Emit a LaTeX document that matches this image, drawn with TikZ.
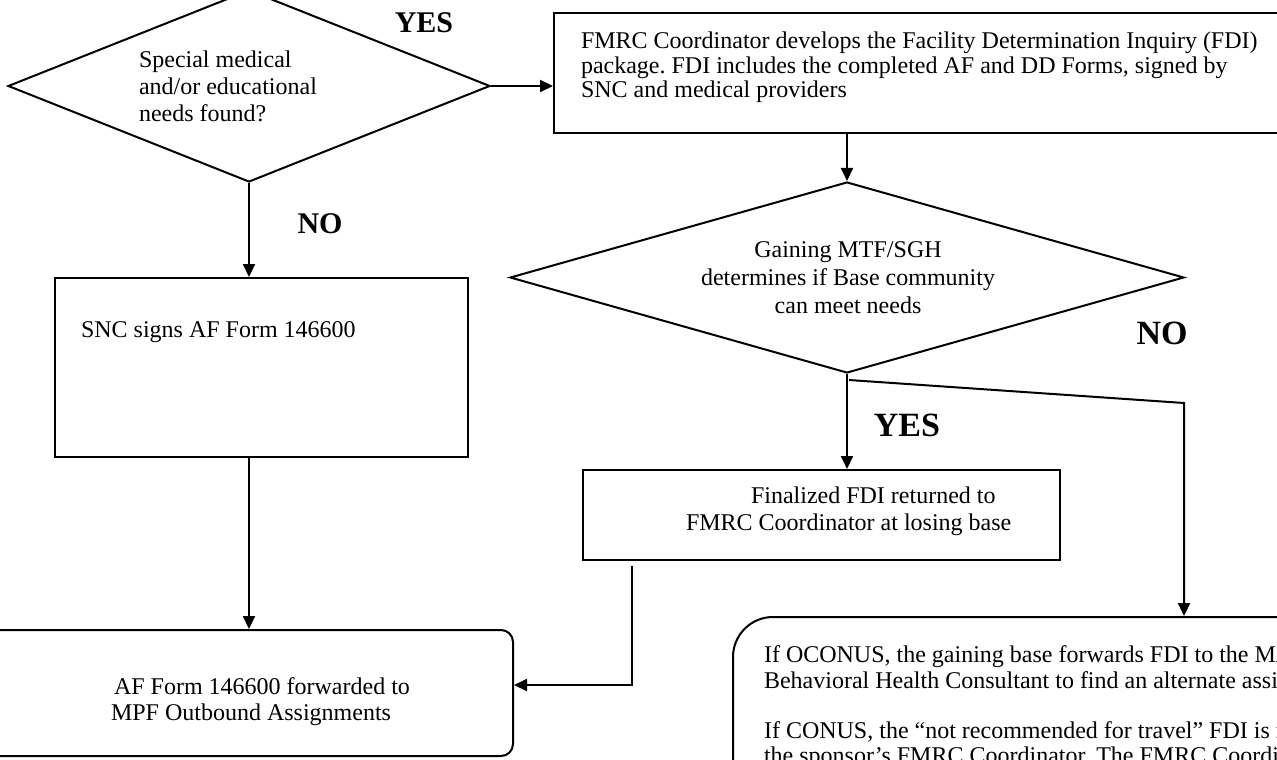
\documentclass[tikz,border=0pt]{standalone}
\usepackage{fontspec}
\setmainfont{Liberation Serif}
\usetikzlibrary{shapes.geometric,arrows.meta,fit}
\frenchspacing
\begin{document}
\begin{tikzpicture}[x=0.5pt,y=-0.5pt,
  line width=1pt,
  arr/.style={-{Triangle[length=6.5pt,width=6pt]}},
  boxst/.style={draw, inner sep=0pt},
  dia/.style={draw, diamond, inner sep=0pt},
  txt/.style={inner sep=0pt, align=left, font=\fontsize{12}{12.2}\selectfont},
  lbl/.style={inner sep=0pt, font=\bfseries\fontsize{15}{15}\selectfont},
  biglbl/.style={inner sep=0pt, font=\bfseries\fontsize{17}{17}\selectfont}
]
\useasboundingbox (0,0) rectangle (1277,759);
\clip (0,0) rectangle (1277,759);

% decision 1
\node[dia, minimum width=241pt, minimum height=96pt] (d1) at (249,86) {};
\node[txt, anchor=north west, font=\fontsize{12}{13.5}\selectfont] (t1) at (138,50)
  {Special medical\\and/or educational\\needs found?};

% FMRC box
\node[boxst, fit={(554,13) (1320,133)}] (fmrc) {};
\node[txt, anchor=north west] (t2) at (580,31)
  {FMRC Coordinator develops the Facility Determination Inquiry (FDI)\\
   package. FDI includes the completed AF and DD Forms, signed by\\
   SNC and medical providers};

% decision 2
\node[dia, minimum width=337pt, minimum height=95.5pt] (d2) at (847,277.5) {};
\node[txt, align=center, anchor=north, font=\fontsize{12}{14}\selectfont] (t3) at (848,241)
  {Gaining MTF/SGH\\determines if Base community\\can meet needs};

% SNC box
\node[boxst, fit={(55,278) (468,457)}] (snc) {};
\node[txt, anchor=north west] (t4) at (80,321) {SNC signs AF Form 146600};

% Finalized box
\node[boxst, fit={(583,470) (1060,560)}] (fin) {};
\node[txt, anchor=north west, font=\fontsize{12}{13.5}\selectfont] (t5) at (685,486)
  {\hspace*{32.5pt}Finalized FDI returned to\\FMRC Coordinator at losing base};

% AF forwarded box
\node[boxst, rounded corners=6pt, fit={(-40,630) (513,756)}] (af) {};
\node[txt, anchor=north west, font=\fontsize{12}{13}\selectfont] (t6) at (110,677)
  {\hspace*{1.5pt}AF Form 146600 forwarded to\\MPF Outbound Assignments};

% OCONUS/CONUS box
\node[boxst, rounded corners=20pt, fit={(733,617) (1330,840)}] (br) {};
\node[txt, anchor=north west, font=\fontsize{12}{12.6}\selectfont] (t7) at (763,645)
  {If OCONUS, the gaining base forwards FDI to the MAJCOM\\
   Behavioral Health Consultant to find an alternate assignment.\\[12.6pt]
   If CONUS, the ``not recommended for travel'' FDI is returned to\\
   the sponsor's FMRC Coordinator. The FMRC Coordinator notifies};

% labels
\node[lbl] (yes1) at (424,23) {YES};
\node[lbl] (no1) at (320,224) {NO};
\node[biglbl] (no2) at (1162,333) {NO};
\node[biglbl] (yes2) at (907,425) {YES};

% connectors
\draw[arr] (d1.east) -- (d1.east -| fmrc.west);
\draw[arr] (d2.north |- fmrc.south) -- (d2.north);
\draw[arr] (d1.south) -- (d1.south |- snc.north);
\draw[arr] (d1.south |- snc.south) -- (d1.south |- af.north);
\draw[arr] (d2.south) -- (d2.south |- fin.north);
\coordinate (split) at (849,380);
\coordinate (nb) at (1184,403);
\draw[arr] (split) -- (nb) -- (nb |- br.north);
\coordinate (f1) at (632,566);
\coordinate (f2) at (632,685);
\draw[arr] (f1) -- (f2) -- (f2 -| af.east);
\end{tikzpicture}
\end{document}
